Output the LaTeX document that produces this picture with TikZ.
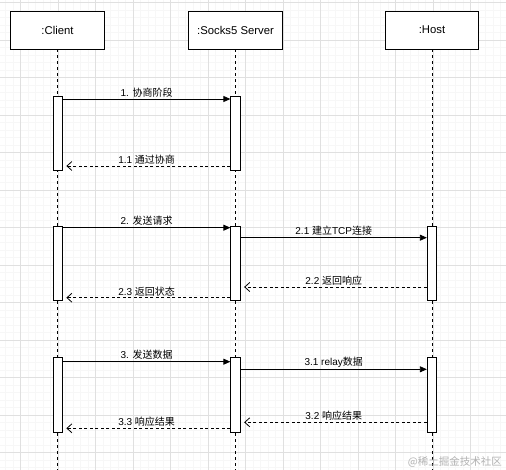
\documentclass[tikz,border=0pt]{standalone}
\usepackage{fontspec}
\setmainfont{Liberation Sans}
\newfontfamily\cjk{Noto Sans CJK SC}
\usetikzlibrary{arrows.meta,calc}
\begin{document}
\begin{tikzpicture}[x=1pt,y=-1pt,
  actor/.style={draw,fill=white,line width=0.8pt,minimum width=93.5pt,minimum height=38pt,inner sep=0pt,font=\fontsize{11.3}{13}\selectfont},
  actbar/.style={draw,fill=white,line width=0.8pt,minimum width=9.5pt,inner sep=0pt},
  lifeline/.style={line width=0.8pt,dash pattern=on 3pt off 3pt},
  msg/.style={line width=0.8pt,-{Triangle[length=7pt,width=6pt]}},
  reply/.style={line width=0.8pt,dash pattern=on 3pt off 2.5pt,shorten >=3.5pt,-{Straight Barb[length=5pt,width=9pt,line width=0.8pt]}},
  lbl/.style={font=\fontsize{10}{12}\selectfont,inner sep=1.5pt}]
\useasboundingbox (0,0) rectangle (506,470);
\fill[white] (0,0) rectangle (506,470);
% minor grid
\foreach \i in {0,...,68} {\draw[black!3,line width=0.4pt] ({5.5+7.5*\i},0) -- ({5.5+7.5*\i},470);}
\foreach \i in {0,...,63} {\draw[black!3,line width=0.4pt] (0,{2.5+7.5*\i}) -- (506,{2.5+7.5*\i});}
% major grid
\foreach \i in {0,...,13} {\draw[black!12,line width=0.5pt] ({20.5+37.5*\i},0) -- ({20.5+37.5*\i},470);}
\foreach \i in {0,...,12} {\draw[black!12,line width=0.5pt] (0,{2.5+37.5*\i}) -- (506,{2.5+37.5*\i});}
% actors
\node[actor] (client) at (57.5,30) {:Client};
\node[actor] (server) at (235.5,30) {:Socks5 Server};
\node[actor] (host) at (432,30) {:Host};
\coordinate (clientend) at (57.5,470);
\coordinate (serverend) at (235.5,470);
\coordinate (hostend) at (432,470);
\draw[lifeline] (client.south) -- (clientend);
\draw[lifeline] (server.south) -- (serverend);
\draw[lifeline] (host.south) -- (hostend);
% activation bars
\node[actbar,minimum height=74.7pt] (c1) at (57.7,133.35) {};
\node[actbar,minimum height=74.7pt] (s1) at (235.5,133.35) {};
\node[actbar,minimum height=74pt] (c2) at (57.7,263.7) {};
\node[actbar,minimum height=74pt] (s2) at (235.5,263.7) {};
\node[actbar,minimum height=74pt] (h2) at (432,263.7) {};
\node[actbar,minimum height=75pt] (c3) at (57.7,394.8) {};
\node[actbar,minimum height=75pt] (s3) at (235.5,394.8) {};
\node[actbar,minimum height=75pt] (h3) at (432,394.8) {};
% messages
\draw[msg] (c1.east |- 0,99) -- node[lbl,above] {1. {\cjk 协商阶段}} (s1.west |- 0,99);
\draw[reply] (s1.west |- 0,166) -- node[lbl,above] {1.1 {\cjk 通过协商}} (c1.east |- 0,166);
\draw[msg] (c2.east |- 0,227.7) -- node[lbl,above] {2. {\cjk 发送请求}} (s2.west |- 0,227.7);
\draw[msg] (s2.east |- 0,237.7) -- node[lbl,above] {2.1 {\cjk 建立}TCP{\cjk 连接}} (h2.west |- 0,237.7);
\draw[reply] (h2.west |- 0,287) -- node[lbl,above] {2.2 {\cjk 返回响应}} (s2.east |- 0,287);
\draw[reply] (s2.west |- 0,297.7) -- node[lbl,above] {2.3 {\cjk 返回状态}} (c2.east |- 0,297.7);
\draw[msg] (c3.east |- 0,361.7) -- node[lbl,above] {3. {\cjk 发送数据}} (s3.west |- 0,361.7);
\draw[msg] (s3.east |- 0,369.3) -- node[lbl,above] {3.1 relay{\cjk 数据}} (h3.west |- 0,369.3);
\draw[reply] (h3.west |- 0,422.3) -- node[lbl,above] {3.2 {\cjk 响应结果}} (s3.east |- 0,422.3);
\draw[reply] (s3.west |- 0,428.3) -- node[lbl,above] {3.3 {\cjk 响应结果}} (c3.east |- 0,428.3);
% watermark
\node[text=black!30,font=\cjk\fontsize{10.5}{12}\selectfont,anchor=east,inner sep=0pt] (wm) at (502,461.5) {@{稀土掘金技术社区}};
\end{tikzpicture}
\end{document}
